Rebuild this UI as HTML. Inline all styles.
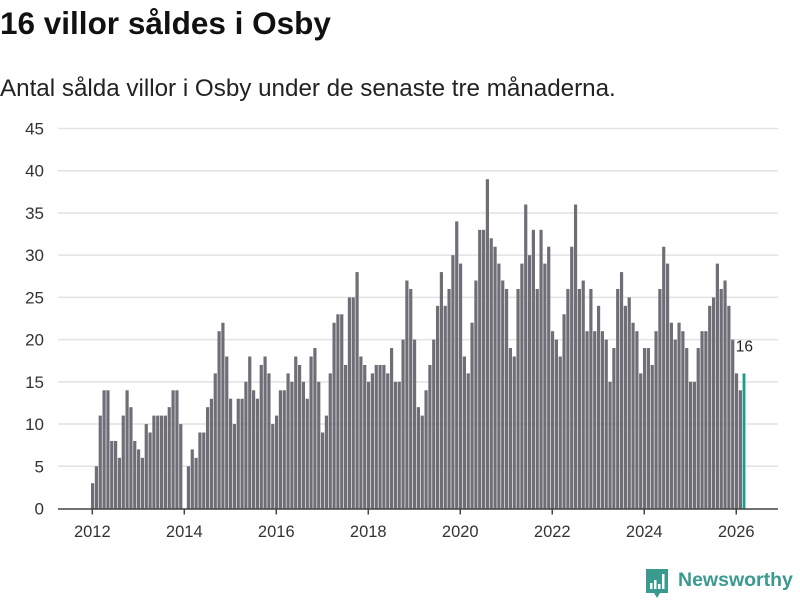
<!DOCTYPE html>
<html><head><meta charset="utf-8"><style>
body{margin:0;background:#fff;font-family:"Liberation Sans","DejaVu Sans",sans-serif;}
#wrap{position:relative;width:800px;height:600px;overflow:hidden;}
h1{position:absolute;left:0;top:5px;margin:0;font-size:31.5px;font-weight:bold;color:#111;}
p.sub{position:absolute;left:0;top:75px;margin:0;font-size:24.2px;color:#222;}
svg{position:absolute;left:0;top:0;}
.logo{position:absolute;left:645px;top:568px;}
.logotext{position:absolute;left:678px;top:569px;font-size:19.5px;font-weight:bold;color:#3a9a8e;}
</style></head><body>
<div id="wrap">
<h1>16 villor såldes i Osby</h1>
<p class="sub">Antal sålda villor i Osby under de senaste tre månaderna.</p>
<svg id="chart" width="800" height="600"></svg>
<svg class="logo" width="24" height="32" viewBox="0 0 24 32"><path d="M1 1h22v24h-8l-3 5-3-5H1z" fill="#3a9a8e"/><rect x="5" y="15" width="2.5" height="6" fill="#fff"/><rect x="9" y="12" width="2.5" height="9" fill="#fff"/><rect x="13" y="16" width="2.5" height="5" fill="#fff"/><rect x="17" y="6" width="2.5" height="15" fill="#fff"/></svg>
<div class="logotext">Newsworthy</div>
</div>
<script>
const values = [3,5,11,14,14,8,8,6,11,14,12,8,
7,6,10,9,11,11,11,11,12,14,14,10,
0,5,7,6,9,9,12,13,16,21,22,18,
13,10,13,13,15,18,14,13,17,18,16,10,
11,14,14,16,15,18,17,15,13,18,19,15,
9,11,16,22,23,23,17,25,25,28,18,17,
15,16,17,17,17,16,19,15,15,20,27,26,
20,12,11,14,17,20,24,28,24,26,30,34,
29,18,16,22,27,33,33,39,32,31,29,27,
26,19,18,26,29,36,30,33,26,33,29,31,
21,20,18,23,26,31,36,26,27,21,26,21,
24,21,20,15,19,26,28,24,25,22,21,16,
19,19,17,21,26,31,29,22,20,22,21,19,
15,15,19,21,21,24,25,29,26,27,24,20,
16,14,16];
const startYear = 2012;
const yTicks = [0,5,10,15,20,25,30,35,40,45];
const xTickYears = [2012,2014,2016,2018,2020,2022,2024,2026];
const NS="http://www.w3.org/2000/svg";
const svg=document.getElementById('chart');
const x0=92.3, monthW=3.833, yBase=508.5, unit=8.444;
const xScale=m=>x0+m*monthW;
const yScale=v=>yBase-v*unit;
function mk(tag,attrs){const e=document.createElementNS(NS,tag);for(const k in attrs)e.setAttribute(k,attrs[k]);svg.appendChild(e);return e;}
yTicks.forEach(t=>{
  if(t>0){const g=mk('line',{x1:58,x2:778,y1:yScale(t),y2:yScale(t),stroke:'#e2e2e2','stroke-width':1.5});
  
  }
  const l=mk('text',{x:44,y:yScale(t)+6,'text-anchor':'end','font-size':17,fill:'#333','font-family':'Liberation Sans, DejaVu Sans, sans-serif'});
  l.textContent=t;
  
  
});
values.forEach((v,i)=>{
  const last=i===values.length-1;
  const r=mk('rect',{x:xScale(i)-1.3,y:yScale(v),width:last?2.8:3.2,height:v*unit,fill:last?'#1a9c8f':'#6f6e76'});
  
  
});
const li=values.length-1;
const vl=mk('text',{x:xScale(li)+0.5,y:yScale(values[li])-22,'text-anchor':'middle','font-size':15.5,fill:'#222','font-family':'Liberation Sans, DejaVu Sans, sans-serif'});
vl.textContent=values[li];


const ax=mk('line',{x1:58,x2:778,y1:yBase+0.5,y2:yBase+0.5,stroke:'#444','stroke-width':1.5});


xTickYears.forEach(yr=>{
  const x=xScale((yr-startYear)*12);
  const t=mk('line',{x1:x,x2:x,y1:yBase,y2:yBase+6,stroke:'#444','stroke-width':1.5});
  
  
  const l=mk('text',{x:x,y:537,'text-anchor':'middle','font-size':16.5,fill:'#333','font-family':'Liberation Sans, DejaVu Sans, sans-serif'});
  l.textContent=yr;
  
  
});
</script>
</body></html>
